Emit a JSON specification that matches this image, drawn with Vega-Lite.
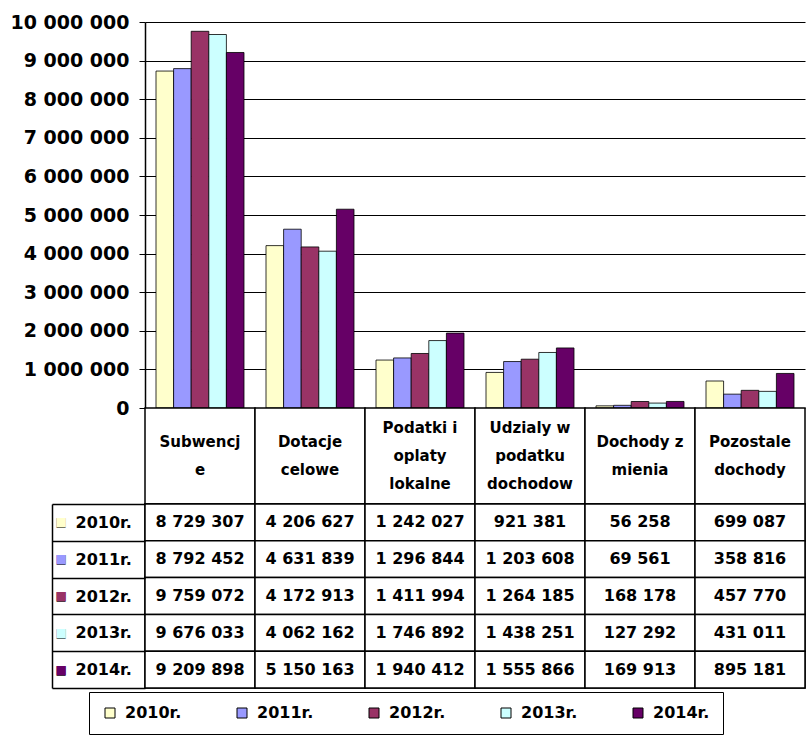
{
  "$schema": "https://vega.github.io/schema/vega-lite/v6.json",
  "padding": {"left": 10, "top": 13, "right": 5, "bottom": 0},
  "bounds": "flush",
  "spacing": 0,
  "background": "white",
  "config": {
    "view": {"stroke": null},
    "font": "DejaVu Sans",
    "locale": {"number": {"decimal": ",", "thousands": " ", "grouping": [3], "currency": ["", " zł"]}}
  },
  "datasets": {
    "vals": [
      {"category": "Subwencje", "year": "2010r.", "value": 8729307},
      {"category": "Subwencje", "year": "2011r.", "value": 8792452},
      {"category": "Subwencje", "year": "2012r.", "value": 9759072},
      {"category": "Subwencje", "year": "2013r.", "value": 9676033},
      {"category": "Subwencje", "year": "2014r.", "value": 9209898},
      {"category": "Dotacje celowe", "year": "2010r.", "value": 4206627},
      {"category": "Dotacje celowe", "year": "2011r.", "value": 4631839},
      {"category": "Dotacje celowe", "year": "2012r.", "value": 4172913},
      {"category": "Dotacje celowe", "year": "2013r.", "value": 4062162},
      {"category": "Dotacje celowe", "year": "2014r.", "value": 5150163},
      {"category": "Podatki i opłaty lokalne", "year": "2010r.", "value": 1242027},
      {"category": "Podatki i opłaty lokalne", "year": "2011r.", "value": 1296844},
      {"category": "Podatki i opłaty lokalne", "year": "2012r.", "value": 1411994},
      {"category": "Podatki i opłaty lokalne", "year": "2013r.", "value": 1746892},
      {"category": "Podatki i opłaty lokalne", "year": "2014r.", "value": 1940412},
      {"category": "Udziały w podatku dochodów", "year": "2010r.", "value": 921381},
      {"category": "Udziały w podatku dochodów", "year": "2011r.", "value": 1203608},
      {"category": "Udziały w podatku dochodów", "year": "2012r.", "value": 1264185},
      {"category": "Udziały w podatku dochodów", "year": "2013r.", "value": 1438251},
      {"category": "Udziały w podatku dochodów", "year": "2014r.", "value": 1555866},
      {"category": "Dochody z mienia", "year": "2010r.", "value": 56258},
      {"category": "Dochody z mienia", "year": "2011r.", "value": 69561},
      {"category": "Dochody z mienia", "year": "2012r.", "value": 168178},
      {"category": "Dochody z mienia", "year": "2013r.", "value": 127292},
      {"category": "Dochody z mienia", "year": "2014r.", "value": 169913},
      {"category": "Pozostałe dochody", "year": "2010r.", "value": 699087},
      {"category": "Pozostałe dochody", "year": "2011r.", "value": 358816},
      {"category": "Pozostałe dochody", "year": "2012r.", "value": 457770},
      {"category": "Pozostałe dochody", "year": "2013r.", "value": 431011},
      {"category": "Pozostałe dochody", "year": "2014r.", "value": 895181}
    ],
    "headers": [
      {"category": "Subwencje", "label": "Subwencj\ne"},
      {"category": "Dotacje celowe", "label": "Dotacje\ncelowe"},
      {"category": "Podatki i opłaty lokalne", "label": "Podatki i\noplaty\nlokalne"},
      {"category": "Udziały w podatku dochodów", "label": "Udzialy w\npodatku\ndochodow"},
      {"category": "Dochody z mienia", "label": "Dochody z\nmienia"},
      {"category": "Pozostałe dochody", "label": "Pozostale\ndochody"}
    ]
  },
  "resolve": {"scale": {"x": "independent", "y": "independent"}},
  "vconcat": [
    {
      "width": 660,
      "height": 386,
      "data": {"name": "vals"},
      "mark": {"type": "bar", "stroke": "#000", "strokeWidth": 0.8},
      "encoding": {
        "x": {
          "field": "category", "type": "nominal",
          "sort": ["Subwencje", "Dotacje celowe", "Podatki i opłaty lokalne", "Udziały w podatku dochodów", "Dochody z mienia", "Pozostałe dochody"],
          "scale": {"paddingInner": 0.2, "paddingOuter": 0.1},
          "axis": null
        },
        "xOffset": {"field": "year", "type": "nominal", "sort": ["2010r.", "2011r.", "2012r.", "2013r.", "2014r."], "scale": {"paddingInner": 0}},
        "y": {
          "field": "value", "type": "quantitative",
          "scale": {"domain": [0, 10000000], "nice": false},
          "axis": {
            "title": null, "tickCount": 10, "format": ",d", "grid": true,
            "gridColor": "#000", "gridWidth": 1, "domainColor": "#000", "domainWidth": 1.5,
            "tickColor": "#000", "tickSize": 6, "labelPadding": 10,
            "labelFont": "DejaVu Sans", "labelFontWeight": "bold", "labelFontSize": 19, "labelColor": "#000"
          }
        },
        "color": {
          "field": "year", "type": "nominal",
          "scale": {"domain": ["2010r.", "2011r.", "2012r.", "2013r.", "2014r."], "range": ["#FFFFCC", "#9999FF", "#993366", "#CCFFFF", "#660066"]},
          "legend": {
            "orient": "none", "legendX": -56, "legendY": 670,
            "direction": "horizontal", "title": null, "columns": 5,
            "symbolType": "square", "symbolSize": 100, "symbolStrokeColor": "#000", "symbolStrokeWidth": 1, "symbolOpacity": 1,
            "labelFont": "DejaVu Sans", "labelFontWeight": "bold", "labelFontSize": 16, "labelColor": "#000", "labelOffset": 7,
            "columnPadding": 52, "strokeColor": "#000", "fillColor": "white", "padding": 13
          }
        }
      }
    },
    {
      "width": 660,
      "height": 96,
      "data": {"name": "headers"},
      "layer": [
        {
          "mark": {"type": "rect", "fill": "white", "stroke": "#000", "strokeWidth": 1.5},
          "encoding": {
            "x": {"field": "category", "type": "nominal",
              "sort": ["Subwencje", "Dotacje celowe", "Podatki i opłaty lokalne", "Udziały w podatku dochodów", "Dochody z mienia", "Pozostałe dochody"],
              "scale": {"paddingInner": 0, "paddingOuter": 0}, "axis": null}
          }
        },
        {
          "transform": [{"filter": "split(datum.label, '\\n').length == 2"}],
          "mark": {"type": "text", "font": "DejaVu Sans", "fontWeight": "bold", "fontSize": 15, "lineBreak": "\n", "lineHeight": 28, "baseline": "middle", "align": "center", "color": "#000", "dy": -14},
          "encoding": {
            "x": {"field": "category", "type": "nominal",
              "sort": ["Subwencje", "Dotacje celowe", "Podatki i opłaty lokalne", "Udziały w podatku dochodów", "Dochody z mienia", "Pozostałe dochody"],
              "axis": null},
            "text": {"field": "label", "type": "nominal"}
          }
        },
        {
          "transform": [{"filter": "split(datum.label, '\\n').length == 3"}],
          "mark": {"type": "text", "font": "DejaVu Sans", "fontWeight": "bold", "fontSize": 15, "lineBreak": "\n", "lineHeight": 28, "baseline": "middle", "align": "center", "color": "#000", "dy": -28},
          "encoding": {
            "x": {"field": "category", "type": "nominal",
              "sort": ["Subwencje", "Dotacje celowe", "Podatki i opłaty lokalne", "Udziały w podatku dochodów", "Dochody z mienia", "Pozostałe dochody"],
              "axis": null},
            "text": {"field": "label", "type": "nominal"}
          }
        }
      ]
    },
    {
      "width": 660,
      "height": 184,
      "data": {"name": "vals"},
      "layer": [
        {
          "mark": {"type": "rect", "fill": "white", "stroke": "#000", "strokeWidth": 1.5},
          "encoding": {
            "x": {"field": "category", "type": "nominal",
              "sort": ["Subwencje", "Dotacje celowe", "Podatki i opłaty lokalne", "Udziały w podatku dochodów", "Dochody z mienia", "Pozostałe dochody"],
              "scale": {"paddingInner": 0, "paddingOuter": 0}, "axis": null},
            "y": {"field": "year", "type": "nominal", "sort": ["2010r.", "2011r.", "2012r.", "2013r.", "2014r."],
              "scale": {"paddingInner": 0, "paddingOuter": 0},
              "axis": {
                "title": null, "orient": "left", "domain": false, "ticks": true, "tickBand": "extent",
                "tickSize": 93, "tickColor": "#000", "tickWidth": 1.5,
                "labelFont": "DejaVu Sans", "labelFontWeight": "bold", "labelFontSize": 16, "labelColor": "#000",
                "labelAlign": "left", "labelPadding": -23
              }
            }
          }
        },
        {
          "mark": {"type": "rect", "fill": "white", "stroke": "#000", "strokeWidth": 1.5},
          "encoding": {
            "x": {"field": "category", "type": "nominal",
              "sort": ["Subwencje", "Dotacje celowe", "Podatki i opłaty lokalne", "Udziały w podatku dochodów", "Dochody z mienia", "Pozostałe dochody"],
              "axis": null},
            "y": {"field": "year", "type": "nominal", "sort": ["2010r.", "2011r.", "2012r.", "2013r.", "2014r."],
              "axis": {
                "title": null, "orient": "left", "offset": 93, "domain": true, "domainColor": "#000", "domainWidth": 1.5,
                "ticks": false, "labelExpr": "'■'",
                "labelColor": {"expr": "datum.value === '2010r.' ? '#FFFFCC' : datum.value === '2011r.' ? '#9999FF' : datum.value === '2012r.' ? '#993366' : datum.value === '2013r.' ? '#CCFFFF' : '#660066'"},
                "labelFont": "DejaVu Sans", "labelFontSize": 12, "labelAlign": "left", "labelPadding": -3
              }
            }
          }
        },
        {
          "mark": {"type": "text", "font": "DejaVu Sans", "fontWeight": "bold", "fontSize": 16, "baseline": "middle", "align": "center", "color": "#000"},
          "encoding": {
            "x": {"field": "category", "type": "nominal",
              "sort": ["Subwencje", "Dotacje celowe", "Podatki i opłaty lokalne", "Udziały w podatku dochodów", "Dochody z mienia", "Pozostałe dochody"],
              "axis": null},
            "y": {"field": "year", "type": "nominal", "sort": ["2010r.", "2011r.", "2012r.", "2013r.", "2014r."],
              "axis": {
                "title": null, "orient": "left", "offset": 93, "domain": false,
                "ticks": false, "labelExpr": "'□'", "labelColor": "#000",
                "labelFont": "DejaVu Sans", "labelFontSize": 12, "labelAlign": "left", "labelPadding": -3
              }
            },
            "text": {"field": "value", "type": "quantitative", "format": ",d"}
          }
        }
      ],
      "resolve": {"axis": {"y": "independent"}}
    }
  ]
}
